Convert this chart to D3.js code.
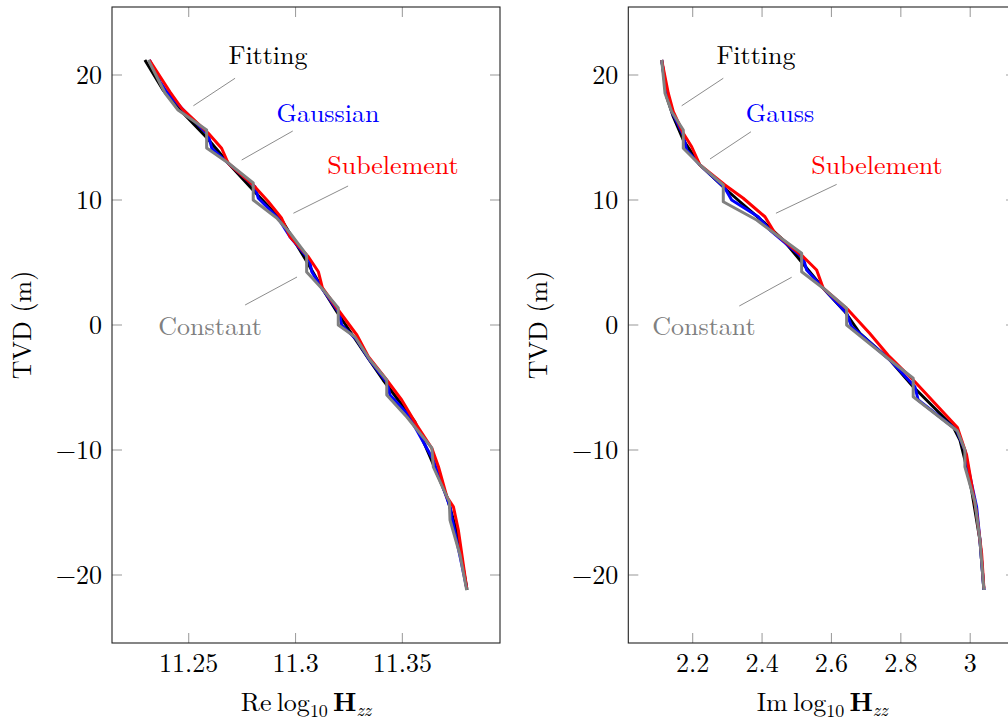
<!DOCTYPE html>
<html><head><meta charset="utf-8">
<script src="https://cdn.jsdelivr.net/npm/d3@7"></script>
<style>
body{margin:0;background:#fff;}
</style></head>
<body><svg id="c" width="1008" height="721"></svg>
<script>
// ---------- data (TVD in m, value) ----------
const yTicks = [-20, -10, 0, 10, 20];
const reTicks = [11.25, 11.3, 11.35];
const imTicks = [2.2, 2.4, 2.6, 2.8, 3];

// Left panel: Re log10 Hzz
const reFitX = [11.2295,11.2380,11.2469,11.2586,11.2693,11.2801,11.2941,11.3054,11.3124,11.3194,11.3339,11.3410,11.3559,11.3630,11.3709,11.3756,11.3803];
const reFitY = [21.2,18.8,17.04,14.96,12.8,10.8,8.24,5.04,2.96,1.04,-2.64,-4.4,-7.76,-10.56,-13.76,-16.64,-21.2];
const reGaussX = [11.2316,11.2366,11.2397,11.2475,11.2592,11.2608,11.2685,11.2810,11.2826,11.2919,11.2974,11.3065,11.3076,11.3123,11.3205,11.3216,11.3287,11.3341,11.3430,11.3442,11.3521,11.3567,11.3645,11.3661,11.3723,11.3731,11.3801];
const reGaussY = [21.2,19.46,18.66,17.2,15.2,14.14,12.94,11.06,10.14,8.54,7.06,5.2,4.26,2.94,0.94,0,-1.2,-2.66,-4.66,-5.6,-7.06,-8.4,-10.8,-11.6,-14.54,-15.34,-21.04];
const reSubX = [11.2316,11.2412,11.2467,11.2592,11.2654,11.2685,11.2802,11.2873,11.2935,11.2974,11.3060,11.3107,11.3126,11.3200,11.3287,11.3341,11.3427,11.3497,11.3567,11.3638,11.3669,11.3708,11.3739,11.3762,11.3801];
const reSubY = [21.2,18.66,17.34,15.34,14.14,12.94,11.2,9.86,8.54,7.06,5.46,4.26,2.96,1.2,-0.8,-2.54,-4.4,-6.0,-8.0,-9.86,-11.34,-13.74,-14.54,-16.4,-21.04];
const reConstX = [11.2311,11.2389,11.2450,11.2584,11.2584,11.2685,11.2802,11.2802,11.2912,11.2974,11.3052,11.3052,11.3130,11.3200,11.3200,11.3279,11.3349,11.3427,11.3427,11.3521,11.3638,11.3645,11.3720,11.3723,11.3770,11.3801];
const reConstY = [21.2,18.56,17.2,15.6,14.16,12.96,11.36,10.0,8.56,7.36,5.6,4.24,2.8,1.36,0,-0.96,-2.8,-4.4,-5.6,-7.36,-9.84,-11.36,-14.16,-15.6,-18.4,-21.2];

// Right panel: Im log10 Hzz
const imFitX = [2.1107,2.1251,2.1441,2.1729,2.2210,2.2980,2.3363,2.4084,2.4611,2.5092,2.5764,2.6389,2.6821,2.7686,2.8357,2.9510,2.9703,2.9847,3.0040,3.0280,3.0395];
const imFitY = [21.2,18.26,16.66,14.8,12.8,10.8,9.86,8.14,6.8,5.2,2.94,1.06,-0.66,-2.8,-4.94,-8.14,-9.2,-10.8,-13.2,-17.2,-21.2];
const imGaussX = [2.1107,2.1251,2.1403,2.1729,2.1827,2.2210,2.2931,2.3124,2.3890,2.4228,2.5187,2.5285,2.5764,2.6438,2.6582,2.7686,2.8406,2.8501,2.9608,2.9862,2.9942,3.0184,3.0280,3.0395];
const imGaussY = [21.2,18.54,17.04,15.2,14.0,12.8,10.94,10.0,8.66,7.6,5.34,4.4,2.94,0.94,-0.14,-2.8,-4.94,-6.0,-8.4,-10.16,-11.44,-14.54,-17.2,-21.2];
const imSubX = [2.1107,2.1297,2.1441,2.1729,2.1971,2.2210,2.2931,2.3458,2.4084,2.4372,2.5187,2.5573,2.5764,2.6484,2.7100,2.7628,2.8406,2.9631,2.9896,3.0184,3.0329,3.0395];
const imSubY = [21.2,18.54,17.06,15.34,14.26,12.8,11.2,10.14,8.66,7.34,5.46,4.4,2.94,1.2,-0.66,-2.4,-4.54,-8.2,-10.4,-15.06,-18.26,-21.06];
const imConstX = [2.1107,2.1202,2.1395,2.1729,2.1729,2.2210,2.2882,2.2882,2.3844,2.4228,2.5141,2.5141,2.5764,2.6438,2.6438,2.7686,2.8357,2.8357,2.9631,2.9847,2.9847,3.0135,3.0280,3.0395];
const imConstY = [21.2,18.54,17.06,15.6,14.14,12.8,11.2,9.86,8.4,7.6,5.74,4.26,2.94,1.34,0,-2.8,-4.26,-5.74,-8.48,-10.0,-11.34,-14.14,-17.2,-21.2];

// annotation pins
const seriesNames = ["Fitting", "Gaussian", "Subelement", "Constant"];
const seriesNamesIm = ["Fitting", "Gauss", "Subelement", "Constant"];
const reTextX = [11.2871, 11.3152, 11.3456, 11.2600];
const reTextY = [21.6, 16.96, 12.8, -0.08];
const reLineX1 = [11.2522, 11.2748, 11.2990, 11.2764];
const reLineY1 = [17.54, 13.2, 8.94, 1.6];
const reLineX2 = [11.2717, 11.2987, 11.3246, 11.3007];
const reLineY2 = [19.74, 15.52, 11.12, 3.84];
const imTextX = [2.3824, 2.4516, 2.7311, 2.2326];
const imTextY = [21.6, 16.96, 12.8, -0.08];
const imLineX1 = [2.1683, 2.2499, 2.4400, 2.3343];
const imLineY1 = [17.54, 13.28, 8.94, 1.52];
const imLineX2 = [2.2882, 2.3680, 2.6150, 2.4853];
const imLineY2 = [19.74, 15.46, 11.25, 3.82];

const colors = ["#000000", "#0000ff", "#ff0000", "#808080"];

// ---------- drawing ----------
const FONT = "'Latin Modern Roman', 'CMU Serif', 'Liberation Serif', serif";
const svg = d3.select("#c");
const yScale = d3.scaleLinear().domain([-25.44, 25.44]).range([643, 7]);
const FS = 26;

function txt(sel) { return sel.append("text").style("font-family", FONT); }

function panel(opts) {
  const x = d3.scaleLinear().domain(opts.domain).range(opts.range);
  const [x0, x1] = opts.range;
  const [y1, y0] = yScale.range();
  const g = svg.append("g");
  const clipId = "clip" + opts.id;
  svg.append("clipPath").attr("id", clipId).append("rect")
    .attr("x", x0).attr("y", y0).attr("width", x1 - x0).attr("height", y1 - y0);

  const tk = g.append("g").attr("stroke", "#a0a0a0").attr("stroke-width", 1.1);
  opts.ticks.forEach(t => {
    const px = x(t);
    tk.append("line").attr("x1", px).attr("x2", px).attr("y1", y1).attr("y2", y1 - 10);
    tk.append("line").attr("x1", px).attr("x2", px).attr("y1", y0).attr("y2", y0 + 10);
  });
  yTicks.forEach(t => {
    const py = yScale(t);
    tk.append("line").attr("x1", x0).attr("x2", x0 + 10).attr("y1", py).attr("y2", py);
    tk.append("line").attr("x1", x1).attr("x2", x1 - 10).attr("y1", py).attr("y2", py);
  });

  opts.ticks.forEach(t => {
    txt(g).attr("x", x(t)).attr("y", y1 + 29).attr("text-anchor", "middle")
      .attr("font-size", FS).text(String(t));
  });
  yTicks.forEach(t => {
    txt(g).attr("x", x0 - 10).attr("y", yScale(t) + 8.5).attr("text-anchor", "end")
      .attr("font-size", FS).text(t < 0 ? "\u2212" + Math.abs(t) : String(t));
  });

  const pins = g.append("g").attr("stroke", "#8c8c8c").attr("stroke-width", 1);
  opts.names.forEach((n, i) => {
    pins.append("line").attr("x1", x(opts.lx1[i])).attr("y1", yScale(opts.ly1[i]))
      .attr("x2", x(opts.lx2[i])).attr("y2", yScale(opts.ly2[i]));
  });

  const line = d3.line().x(d => x(d[0])).y(d => yScale(d[1]));
  const cg = g.append("g").attr("clip-path", `url(#${clipId})`);
  opts.series.forEach((s, i) => {
    cg.append("path").datum(d3.zip(s[0], s[1])).attr("d", line)
      .attr("fill", "none").attr("stroke", colors[i]).attr("stroke-width", 3)
      .attr("stroke-linejoin", "round");
  });

  opts.names.forEach((n, i) => {
    txt(g).attr("x", x(opts.tx[i])).attr("y", yScale(opts.ty[i]) + 8.5)
      .attr("text-anchor", "middle").attr("font-size", FS).attr("fill", colors[i]).text(n);
  });

  g.append("rect").attr("x", x0).attr("y", y0).attr("width", x1 - x0).attr("height", y1 - y0)
    .attr("fill", "none").attr("stroke", "#222").attr("stroke-width", 1.1);

  txt(g).attr("transform", `translate(${x0 - 81},${yScale(0)}) rotate(-90)`)
    .attr("text-anchor", "middle").attr("font-size", FS).text("TVD (m)");

  const xl = txt(g).attr("x", (x0 + x1) / 2).attr("y", 711)
    .attr("text-anchor", "middle").attr("font-size", FS);
  xl.append("tspan").text(opts.prefix + "\u2009log");
  xl.append("tspan").attr("font-size", 18).attr("dy", 6).text("10");
  xl.append("tspan").attr("dy", -6).attr("font-weight", "bold").text("\u2009H");
  xl.append("tspan").attr("font-size", 18).attr("dy", 5).attr("font-style", "italic").text("zz");
}

panel({
  id: "re", domain: [11.2141, 11.3957], range: [112, 500], ticks: reTicks,
  series: [[reFitX, reFitY], [reGaussX, reGaussY], [reSubX, reSubY], [reConstX, reConstY]],
  names: seriesNames, tx: reTextX, ty: reTextY,
  lx1: reLineX1, ly1: reLineY1, lx2: reLineX2, ly2: reLineY2, prefix: "Re"
});
panel({
  id: "im", domain: [2.0144, 3.132], range: [628.3, 1016], ticks: imTicks,
  series: [[imFitX, imFitY], [imGaussX, imGaussY], [imSubX, imSubY], [imConstX, imConstY]],
  names: seriesNamesIm, tx: imTextX, ty: imTextY,
  lx1: imLineX1, ly1: imLineY1, lx2: imLineX2, ly2: imLineY2, prefix: "Im"
});
</script></body></html>
